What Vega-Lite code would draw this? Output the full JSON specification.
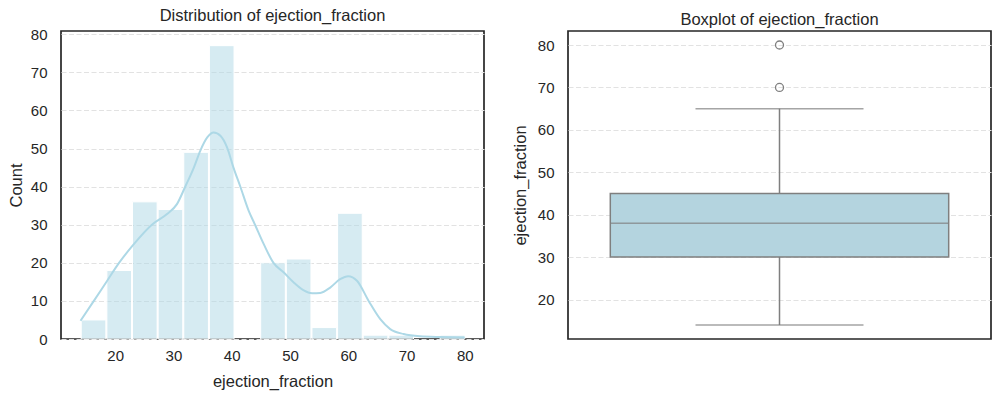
{
  "$schema": "https://vega.github.io/schema/vega-lite/v6.json",
  "background": "white",
  "padding": {"left": 7, "top": 6, "right": 9, "bottom": 4},
  "bounds": "flush",
  "spacing": 84,
  "config": {
    "font": "Liberation Sans",
    "view": {"stroke": "#262626", "strokeWidth": 1.7},
    "axis": {
      "labelFont": "Liberation Sans",
      "labelFontSize": 15,
      "labelColor": "#262626",
      "titleFont": "Liberation Sans",
      "titleFontSize": 16.5,
      "titleColor": "#262626",
      "titleFontWeight": "normal",
      "ticks": false,
      "domain": false,
      "grid": false,
      "labelPadding": 14
    },
    "axisY": {"grid": true, "gridColor": "#e2e2e2", "gridDash": [5, 2.5], "gridWidth": 1.1},
    "title": {"font": "Liberation Sans", "fontSize": 16.5, "fontWeight": "normal", "color": "#262626", "baseline": "alphabetic", "offset": 3, "anchor": "middle"}
  },
  "datasets": {
    "hist": [
      {"bin_start": 14.0, "bin_end": 18.4, "count": 5},
      {"bin_start": 18.4, "bin_end": 22.8, "count": 18},
      {"bin_start": 22.8, "bin_end": 27.2, "count": 36},
      {"bin_start": 27.2, "bin_end": 31.6, "count": 34},
      {"bin_start": 31.6, "bin_end": 36.0, "count": 49},
      {"bin_start": 36.0, "bin_end": 40.4, "count": 77},
      {"bin_start": 44.8, "bin_end": 49.2, "count": 20},
      {"bin_start": 49.2, "bin_end": 53.6, "count": 21},
      {"bin_start": 53.6, "bin_end": 58.0, "count": 3},
      {"bin_start": 58.0, "bin_end": 62.4, "count": 33},
      {"bin_start": 62.4, "bin_end": 66.8, "count": 1},
      {"bin_start": 66.8, "bin_end": 71.2, "count": 1},
      {"bin_start": 75.6, "bin_end": 80.0, "count": 1}
    ],
    "kde": [
      {"x": 14.05, "y": 4.8},
      {"x": 16.34, "y": 10.0},
      {"x": 18.63, "y": 15.3},
      {"x": 20.63, "y": 19.9},
      {"x": 23.2, "y": 24.9},
      {"x": 26.3, "y": 30.0},
      {"x": 28.9, "y": 32.8},
      {"x": 30.6, "y": 35.4},
      {"x": 32.0, "y": 39.9},
      {"x": 33.5, "y": 45.0},
      {"x": 34.6, "y": 49.4},
      {"x": 35.8, "y": 52.9},
      {"x": 36.9, "y": 54.2},
      {"x": 38.1, "y": 53.3},
      {"x": 39.2, "y": 50.3},
      {"x": 40.3, "y": 45.0},
      {"x": 41.5, "y": 39.9},
      {"x": 42.9, "y": 33.7},
      {"x": 44.0, "y": 30.0},
      {"x": 45.5, "y": 24.9},
      {"x": 47.2, "y": 19.9},
      {"x": 48.9, "y": 17.5},
      {"x": 50.6, "y": 14.9},
      {"x": 52.3, "y": 12.8},
      {"x": 53.8, "y": 12.0},
      {"x": 55.2, "y": 12.1},
      {"x": 56.9, "y": 13.5},
      {"x": 58.6, "y": 15.7},
      {"x": 60.0, "y": 16.5},
      {"x": 61.5, "y": 15.3},
      {"x": 63.5, "y": 10.0},
      {"x": 65.5, "y": 5.2},
      {"x": 67.2, "y": 2.6},
      {"x": 69.5, "y": 1.3},
      {"x": 72.3, "y": 0.7},
      {"x": 75.8, "y": 0.5},
      {"x": 80.0, "y": 0.4}
    ],
    "box": [
      {"variable": "ejection_fraction", "lower": 14, "q1": 30, "median": 38, "q3": 45, "upper": 65}
    ],
    "outliers": [
      {"variable": "ejection_fraction", "value": 70},
      {"variable": "ejection_fraction", "value": 80}
    ]
  },
  "hconcat": [
    {
      "width": 423,
      "height": 308,
      "title": "Distribution of ejection_fraction",
      "layer": [
        {
          "data": {"name": "hist"},
          "mark": {"type": "bar", "fill": "#ADD8E6", "fillOpacity": 0.5, "stroke": "white", "strokeWidth": 1},
          "encoding": {
            "x": {"field": "bin_start", "type": "quantitative", "bin": "binned",
                  "scale": {"domain": [10.7, 83.3], "nice": false, "zero": false},
                  "axis": {"values": [20, 30, 40, 50, 60, 70, 80], "format": "d", "title": "ejection_fraction", "labelPadding": 9, "titlePadding": 10}},
            "x2": {"field": "bin_end"},
            "y": {"field": "count", "type": "quantitative",
                  "scale": {"domain": [0, 80.85], "nice": false},
                  "axis": {"values": [0, 10, 20, 30, 40, 50, 60, 70, 80], "title": "Count", "titlePadding": 6}}
          }
        },
        {
          "data": {"name": "kde"},
          "mark": {"type": "line", "color": "#ADD8E6", "strokeWidth": 2, "interpolate": "monotone"},
          "encoding": {
            "x": {"field": "x", "type": "quantitative",
                  "scale": {"domain": [10.7, 83.3], "nice": false, "zero": false},
                  "axis": {"values": [20, 30, 40, 50, 60, 70, 80], "format": "d", "title": "ejection_fraction", "labelPadding": 9, "titlePadding": 10}},
            "y": {"field": "y", "type": "quantitative",
                  "scale": {"domain": [0, 80.85], "nice": false},
                  "axis": {"values": [0, 10, 20, 30, 40, 50, 60, 70, 80], "title": "Count", "titlePadding": 6}}
          }
        },
        {
          "mark": {"type": "rule", "color": "#262626", "strokeWidth": 1.7},
          "encoding": {
            "y": {"datum": 0, "type": "quantitative",
                  "scale": {"domain": [0, 80.85], "nice": false},
                  "axis": {"values": [0, 10, 20, 30, 40, 50, 60, 70, 80], "title": "Count", "titlePadding": 6}}
          }
        }
      ]
    },
    {
      "width": 423,
      "height": 308,
      "title": "Boxplot of ejection_fraction",
      "encoding": {
        "x": {"field": "variable", "type": "nominal", "scale": {"paddingInner": 0, "paddingOuter": 0}, "axis": null}
      },
      "layer": [
        {
          "data": {"name": "box"},
          "mark": {"type": "rule", "color": "#7f7f7f", "strokeWidth": 1.5},
          "encoding": {
            "y": {"field": "lower", "type": "quantitative",
                  "scale": {"domain": [10.7, 83.3], "nice": false, "zero": false},
                  "axis": {"values": [20, 30, 40, 50, 60, 70, 80], "title": "ejection_fraction", "titlePadding": 9}},
            "y2": {"field": "upper"}
          }
        },
        {
          "data": {"name": "box"},
          "mark": {"type": "bar", "width": {"band": 0.8}, "fill": "#b4d4df", "stroke": "#7f7f7f", "strokeWidth": 1.5},
          "encoding": {
            "y": {"field": "q1", "type": "quantitative"},
            "y2": {"field": "q3"}
          }
        },
        {
          "data": {"name": "box"},
          "mark": {"type": "tick", "orient": "horizontal", "size": 339, "thickness": 1.5, "color": "#7f7f7f"},
          "encoding": {"y": {"field": "median", "type": "quantitative"}}
        },
        {
          "data": {"name": "box"},
          "mark": {"type": "tick", "orient": "horizontal", "size": 168, "thickness": 1.5, "color": "#7f7f7f"},
          "encoding": {"y": {"field": "lower", "type": "quantitative"}}
        },
        {
          "data": {"name": "box"},
          "mark": {"type": "tick", "orient": "horizontal", "size": 168, "thickness": 1.5, "color": "#7f7f7f"},
          "encoding": {"y": {"field": "upper", "type": "quantitative"}}
        },
        {
          "data": {"name": "outliers"},
          "mark": {"type": "point", "shape": "circle", "filled": false, "size": 64, "stroke": "#7f7f7f", "strokeWidth": 1.3, "opacity": 1},
          "encoding": {"y": {"field": "value", "type": "quantitative"}}
        }
      ]
    }
  ]
}
